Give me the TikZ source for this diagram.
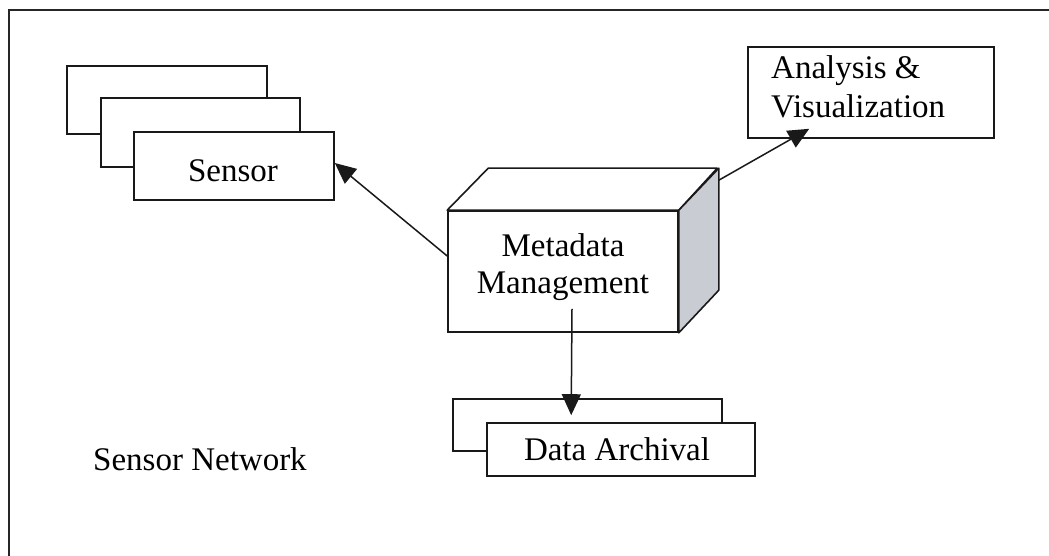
\documentclass[tikz,border=0pt]{standalone}
\usepackage{fontspec}
\setmainfont{Liberation Serif}
\usetikzlibrary{arrows.meta,calc}
\definecolor{sidegray}{HTML}{C9CCD3}
\tikzset{
  box/.style={draw=black!90, line width=1.6pt, fill=white, rectangle, inner sep=0pt},
  lbl/.style={inner sep=0pt, font=\fontsize{33}{37}\selectfont},
  conn/.style={draw=black!90, line width=1.5pt, -{Triangle[length=21pt,width=19pt]}},
}
\begin{document}
\begin{tikzpicture}[x=1pt,y=-1pt]
\useasboundingbox (0,0) rectangle (1049,556);
% outer frame (top and left edges visible)
\draw[line width=1.3pt, black!85] (9,556) -- (9,10) -- (1049,10);

% sensor stack
\node[box, minimum width=200pt, minimum height=68pt] (s1) at (167,100) {};
\node[box, minimum width=199pt, minimum height=69pt] (s2) at (200.5,132.5) {};
\node[box, minimum width=200pt, minimum height=68pt] (sensor) at (234,166) {};
\node[lbl, anchor=base] (sensortxt) at (233,182) {Sensor};

% metadata management cube
\node[box, minimum width=230pt, minimum height=121pt] (meta) at (563,271.5) {};
\draw[line width=1.6pt, black!90, fill=white, line join=round]
  (meta.north west) -- ++(41,-42) -- ++(229,0) -- (meta.north east) -- cycle;
\draw[line width=1.6pt, black!90, fill=sidegray, line join=round]
  (meta.north east) -- ++(40,-42) -- ++(0,122) -- (meta.south east) -- cycle;
\node[lbl, anchor=north, align=center] (metatxt) at (563,233.5) {Metadata\\Management};

% analysis & visualization
\node[box, minimum width=246pt, minimum height=91pt] (ana) at (871,92.5) {};
\node[lbl, anchor=north west, align=left, font=\fontsize{33}{39}\selectfont] (anatxt) at (771,55.5) {Analysis \&\\Visualization};

% data archival stack
\node[box, minimum width=269pt, minimum height=52pt] (arch1) at (587.5,425) {};
\node[box, minimum width=268pt, minimum height=53pt] (arch) at (621,449.5) {};
\node[lbl, anchor=base] (archtxt) at (617,460) {Data Archival};

% sensor network label
\node[lbl, anchor=base west] (net) at (93,470) {Sensor Network};

% connectors
\draw[conn] ($(meta.west)+(0,-15.5)$) -- ($(sensor.east)+(0,-3)$);
\draw[conn] ($(meta.north east)+(40,-30)$) -- ($(ana.south west)+(62,-10)$);
\draw[conn] ($(meta.south)+(9,-24)$) -- ($(arch1.north west)+(119,17)$);
\end{tikzpicture}
\end{document}
